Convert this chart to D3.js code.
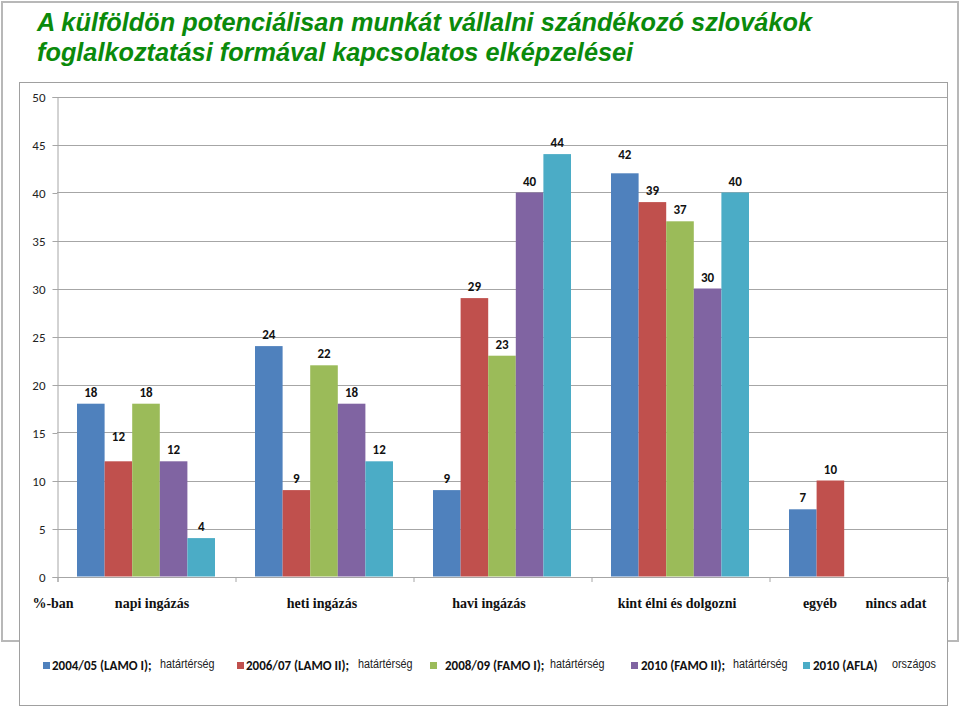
<!DOCTYPE html>
<html><head><meta charset="utf-8">
<script src="https://cdn.jsdelivr.net/npm/d3@7"></script>
<style>body{margin:0;background:#fff;} svg{display:block}</style>
</head><body>
<svg id="c" width="960" height="709"></svg>
<script>
// ---------- DATA ----------
const titleLines = ["A külföldön potenciálisan munkát vállalni szándékozó szlovákok",
                    "foglalkoztatási formával kapcsolatos elképzelései"];
const categories = ["napi ingázás","heti ingázás","havi ingázás","kint élni és dolgozni","egyéb"];
const seriesNames = ["2004/05 (LAMO I);","2006/07 (LAMO II);","2008/09 (FAMO I);","2010 (FAMO II);","2010 (AFLA)"];
const seriesScope = ["határtérség","határtérség","határtérség","határtérség","országos"];
const lamo1 = [18, 24, 9, 42, 7];
const lamo2 = [12, 9, 29, 39, 10];
const famo1 = [18, 22, 23, 37, null];
const famo2 = [12, 18, 40, 30, null];
const afla  = [4, 12, 44, 40, null];
const yTicks = [0, 5, 10, 15, 20, 25, 30, 35, 40, 45, 50];
const axisLabels = ["%-ban","napi ingázás","heti ingázás","havi ingázás","kint élni és dolgozni","egyéb","nincs adat"];

// ---------- LAYOUT / STYLE ----------
const colors = ["#4F81BD","#C0504D","#9BBB59","#8064A2","#4BACC6"];
const plot = {left:57, right:947, top:96.5, bottom:576.5};
const gapWidth = 1.45;
const axisLabelX = [53,152,322,489,677,820,896];
const legendSquareX = [43,237,430,631,803];
const legendTextX = [52,246,445,641,813];
const legendScopeX = [160,358,550,733,892];
const labelNudge = {"1-0": -13, "0-3": -7};

const series = [lamo1, lamo2, famo1, famo2, afla];
const svg = d3.select("#c");

// frames
svg.append("rect").attr("x",2).attr("y",2).attr("width",956).attr("height",639)
  .attr("fill","#fff").attr("stroke","#B8B8B8").attr("stroke-width",2);
svg.append("rect").attr("x",19.5).attr("y",82.5).attr("width",928).attr("height",623)
  .attr("fill","#fff").attr("stroke","#A0A0A0").attr("stroke-width",1);

// title
svg.append("g").selectAll("text").data(titleLines).join("text")
  .attr("x",37).attr("y",(d,i)=>31+i*30)
  .attr("font-family","'Liberation Sans', Arial, sans-serif")
  .attr("font-weight","bold").attr("font-style","italic")
  .attr("font-size",25.3).attr("fill","#0B8A0B").text(d=>d);

// scales
const x0 = d3.scaleBand().domain(categories).range([plot.left, plot.right]).padding(0);
const bw = x0.bandwidth();
const inner = bw*5/(5+gapWidth);
const x1 = d3.scaleBand().domain(d3.range(5)).range([(bw-inner)/2, (bw+inner)/2]);
const y = d3.scaleLinear().domain([0,50]).range([plot.bottom, plot.top]);

// grid
svg.append("g").selectAll("line").data(yTicks.filter(d=>d>0)).join("line")
  .attr("x1",plot.left).attr("x2",plot.right)
  .attr("y1",d=>Math.round(y(d))+0.5).attr("y2",d=>Math.round(y(d))+0.5)
  .attr("stroke","#A6A6A6").attr("stroke-width",1);

// y axis
const yAxis = d3.axisLeft(y).tickValues(yTicks).tickSize(5).tickPadding(7);
const gy = svg.append("g").attr("transform",`translate(${plot.left+0.5},0.5)`).call(yAxis);
gy.select(".domain").attr("stroke","#A6A6A6");
gy.selectAll(".tick line").attr("stroke","#A6A6A6");
gy.selectAll(".tick text").attr("font-family","Carlito, Lato, sans-serif").attr("font-size",13).attr("fill","#222");

// x axis
const xs = d3.scaleLinear().domain([0,categories.length]).range([plot.left, plot.right]);
const xAxis = d3.axisBottom(xs).tickValues(d3.range(categories.length+1)).tickSize(5).tickFormat("");
const gx = svg.append("g").attr("transform",`translate(0.5,${plot.bottom+0.5})`).call(xAxis);
gx.select(".domain").attr("stroke","#A6A6A6");
gx.selectAll(".tick line").attr("stroke","#A6A6A6");

// bars
const gBars = svg.append("g");
series.forEach((vals, si) => {
  const data = categories.map((c,ci)=>({c, ci, v: vals[ci]})).filter(d=>d.v!=null);
  gBars.append("g").selectAll("rect").data(data).join("rect")
    .attr("x", d=>x0(d.c)+x1(si)).attr("width", x1.bandwidth())
    .attr("y", d=>y(d.v)).attr("height", d=>y(0)-y(d.v))
    .attr("fill", colors[si]);
  gBars.append("g").selectAll("text").data(data).join("text")
    .attr("x", d=>x0(d.c)+x1(si)+x1.bandwidth()/2)
    .attr("y", d=>y(d.v)-7+(labelNudge[si+"-"+d.ci]||0))
    .attr("text-anchor","middle")
    .attr("font-family","Carlito, Lato, sans-serif").attr("font-weight","bold")
    .attr("font-size",13).attr("fill","#111").text(d=>d.v);
});

// category labels
svg.append("g").selectAll("text").data(axisLabels).join("text")
  .attr("x",(d,i)=>axisLabelX[i]).attr("y",608).attr("text-anchor","middle")
  .attr("font-family","'Liberation Serif', 'Times New Roman', serif").attr("font-weight","bold")
  .attr("font-size",14).attr("fill","#111").text(d=>d);

// legend
const lg = svg.append("g");
seriesNames.forEach((n,i)=>{
  lg.append("rect").attr("x",legendSquareX[i]).attr("y",662).attr("width",7).attr("height",7).attr("fill",colors[i]);
  lg.append("text").attr("x",legendTextX[i]).attr("y",670)
    .attr("font-family","Carlito, Lato, sans-serif").attr("font-weight","bold").attr("font-size",13)
    .attr("fill","#111").text(n);
  lg.append("text").attr("transform",`translate(${legendScopeX[i]},668) scale(0.8,1)`)
    .attr("font-family","'Liberation Sans', Arial, sans-serif")
    .attr("font-size",13.5).attr("fill","#222").text(seriesScope[i]);
});
</script>
</body></html>
